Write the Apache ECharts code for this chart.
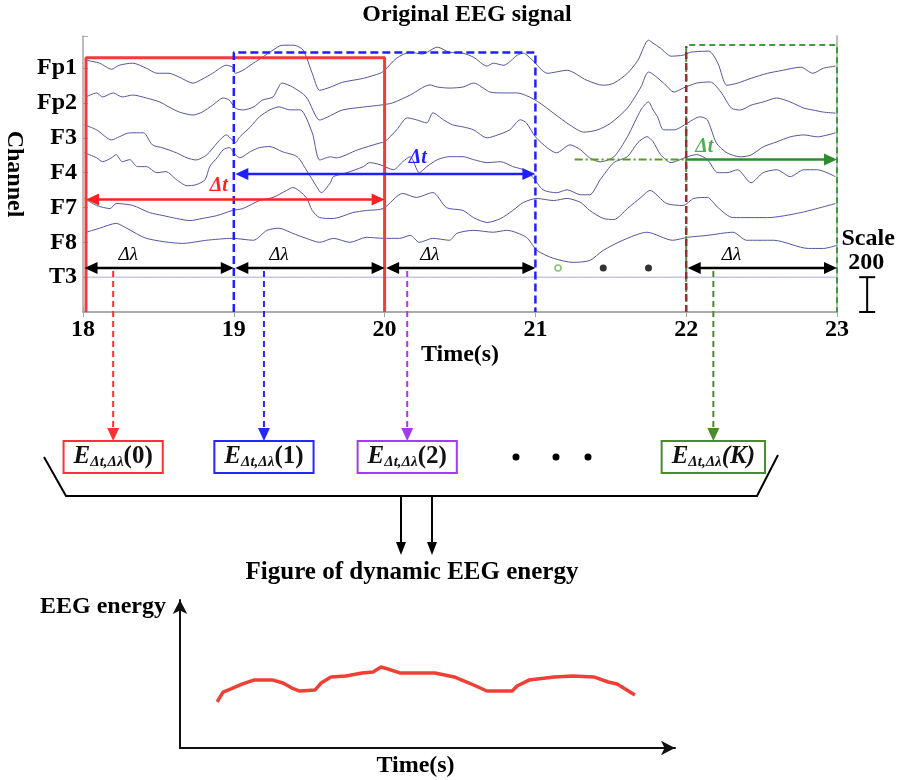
<!DOCTYPE html>
<html>
<head>
<meta charset="utf-8">
<script src="https://cdn.jsdelivr.net/npm/echarts/dist/echarts.min.js"></script>
<style>
html, body { margin: 0; padding: 0; background: #fff; }
#main { width: 901px; height: 780px; }
</style>
</head>
<body>
<div id="main"></div>
<script>
// channels, top to bottom; traces are offsets in uV from each channel's baseline
var channels = ['Fp1', 'Fp2', 'F3', 'F4', 'F7', 'F8', 'T3'];
var channelGap = 200; // same as the scale bar

var fp1 = [[18.02,46],[18.11,29],[18.19,-6],[18.24,17],[18.33,29],[18.42,0],[18.49,-29],[18.57,-29],[18.64,-52],[18.73,-86],[18.79,-63],[18.86,-29],[18.95,17],[18.99,6],[19.01,-29],[19.06,-12],[19.13,29],[19.19,63],[19.26,104],[19.32,132],[19.40,132],[19.46,104],[19.52,-29],[19.57,-127],[19.64,-109],[19.72,-81],[19.86,-58],[19.97,-29],[20.00,-12],[20.08,58],[20.17,92],[20.25,81],[20.35,121],[20.43,92],[20.52,86],[20.59,63],[20.68,12],[20.72,29],[20.79,17],[20.88,75],[20.92,86],[20.98,46],[21.08,-29],[21.21,-12],[21.34,-69],[21.45,-98],[21.52,-86],[21.61,-29],[21.68,46],[21.75,161],[21.78,144],[21.83,115],[21.90,69],[21.98,75],[22.03,92],[22.15,98],[22.21,29],[22.27,-98],[22.34,-86],[22.43,-58],[22.54,-29],[22.64,-12],[22.76,6],[22.84,-29],[22.91,0],[22.99,12]];
var fp2 = [[18.02,35],[18.09,58],[18.13,35],[18.20,58],[18.26,35],[18.33,46],[18.42,29],[18.51,6],[18.57,-23],[18.64,-52],[18.73,-69],[18.79,-52],[18.86,-12],[18.93,29],[18.97,17],[19.01,-29],[19.06,-40],[19.13,-23],[19.19,17],[19.26,35],[19.32,115],[19.39,92],[19.48,35],[19.57,-98],[19.62,-81],[19.72,-40],[19.86,-23],[19.97,-12],[20.05,0],[20.17,46],[20.30,104],[20.35,92],[20.43,86],[20.52,92],[20.59,115],[20.70,63],[20.79,58],[20.88,58],[20.96,35],[21.03,0],[21.12,-58],[21.23,-127],[21.32,-167],[21.41,-155],[21.50,-115],[21.61,-29],[21.70,92],[21.75,178],[21.85,115],[21.92,63],[21.98,86],[22.07,115],[22.16,121],[22.23,63],[22.30,-29],[22.36,-40],[22.43,-12],[22.51,6],[22.60,29],[22.69,6],[22.78,-29],[22.84,-40],[22.91,-52],[22.99,-58]];
var f3 = [[18.01,75],[18.09,46],[18.19,-12],[18.24,6],[18.31,29],[18.40,29],[18.46,-40],[18.53,-58],[18.62,-86],[18.69,-115],[18.75,-127],[18.82,-98],[18.89,-29],[18.95,17],[18.99,-12],[19.01,-29],[19.04,6],[19.11,63],[19.17,121],[19.24,161],[19.30,178],[19.37,161],[19.44,161],[19.52,29],[19.57,-127],[19.64,-109],[19.68,-115],[19.82,-69],[19.97,-29],[20.00,-23],[20.08,46],[20.15,115],[20.21,104],[20.28,86],[20.32,144],[20.39,104],[20.45,75],[20.52,63],[20.59,46],[20.68,0],[20.75,17],[20.83,46],[20.90,104],[20.94,86],[21.00,6],[21.08,-58],[21.14,-86],[21.23,-40],[21.30,-69],[21.36,-115],[21.43,-138],[21.52,-109],[21.61,6],[21.70,161],[21.75,207],[21.78,161],[21.81,121],[21.85,46],[21.92,46],[22.01,86],[22.09,121],[22.14,104],[22.20,-29],[22.27,-86],[22.36,-109],[22.43,-98],[22.51,-52],[22.60,-23],[22.69,6],[22.78,17],[22.87,6],[22.99,29]];
var f4 = [[18.01,115],[18.09,86],[18.13,63],[18.19,86],[18.22,104],[18.26,63],[18.31,75],[18.36,35],[18.42,35],[18.49,0],[18.55,6],[18.62,-40],[18.69,-75],[18.75,-69],[18.81,-40],[18.84,35],[18.89,86],[18.93,132],[18.97,144],[19.01,104],[19.04,86],[19.11,121],[19.17,144],[19.24,150],[19.32,121],[19.42,92],[19.48,17],[19.55,-81],[19.58,-115],[19.64,-58],[19.66,-23],[19.75,0],[19.86,35],[19.90,58],[19.97,46],[20.06,17],[20.12,63],[20.17,92],[20.23,0],[20.28,35],[20.35,75],[20.43,92],[20.52,92],[20.59,75],[20.68,58],[20.77,63],[20.85,35],[20.92,17],[20.98,-23],[21.05,-98],[21.14,-115],[21.21,-98],[21.30,-127],[21.36,-127],[21.43,-40],[21.52,58],[21.61,92],[21.68,173],[21.74,207],[21.78,178],[21.83,104],[21.90,58],[21.96,75],[22.01,92],[22.07,104],[22.14,75],[22.21,0],[22.27,0],[22.34,17],[22.43,-58],[22.51,0],[22.60,17],[22.69,-23],[22.78,17],[22.87,17],[22.99,-23]];
var f7 = [[18.01,52],[18.09,12],[18.18,-6],[18.22,23],[18.33,12],[18.44,-29],[18.53,-46],[18.62,-63],[18.71,-75],[18.79,-63],[18.89,-46],[18.99,-17],[19.06,-6],[19.17,40],[19.26,58],[19.35,98],[19.39,115],[19.48,58],[19.52,-17],[19.57,-58],[19.66,-63],[19.79,-29],[19.88,-17],[19.99,-6],[20.12,81],[20.21,58],[20.32,86],[20.41,0],[20.52,-17],[20.59,-58],[20.68,-86],[20.77,-63],[20.85,-17],[20.92,29],[21.01,52],[21.12,40],[21.21,52],[21.30,29],[21.36,-17],[21.45,-63],[21.52,-69],[21.61,-6],[21.70,58],[21.76,98],[21.87,23],[21.98,12],[22.05,52],[22.14,58],[22.21,0],[22.31,-58],[22.54,-58],[22.76,-29],[22.99,23]];
var f8 = [[18.02,58],[18.11,81],[18.22,109],[18.29,81],[18.42,23],[18.66,-6],[18.82,12],[18.99,23],[19.13,12],[19.22,69],[19.30,81],[19.39,52],[19.48,23],[19.57,0],[19.66,23],[19.77,0],[19.88,29],[19.99,23],[20.10,23],[20.17,40],[20.23,0],[20.32,23],[20.43,12],[20.48,52],[20.59,69],[20.72,58],[20.81,69],[20.94,29],[21.01,-46],[21.12,-92],[21.25,-115],[21.36,-104],[21.45,-46],[21.58,12],[21.74,58],[21.91,12],[22.01,29],[22.14,40],[22.31,58],[22.40,12],[22.58,12],[22.81,-35],[22.91,-35],[23.00,-17]];
var t3 = [[18,0],[23,0]];

// windows and steps on the time axis (s)
var windowSpans = [[18.02, 20], [19, 21], [22, 23]];
var stepSpans = [[18, 19], [19, 20], [20, 21], [22, 23]];
var stepPick = [18.2, 19.2, 20.15, 22.18];
var energyIdx = ['0', '1', '2', 'K'];
var gapDots = [21.15, 21.45, 21.75];

// dynamic energy curve (arbitrary units)
var energyTime = [0.75,0.87,1.03,1.25,1.49,1.88,2.08,2.26,2.42,2.73,2.85,3.05,3.35,3.68,3.90,4.06,4.20,4.44,4.83,5.15,5.54,5.84,6.20,6.71,6.81,7.05,7.56,7.94,8.36,8.65,8.83,9.19];
var energyValue = [31.1,37.8,39.9,43.2,45.9,45.9,43.9,40.5,38.5,39.2,43.9,48.0,48.6,50.7,51.4,54.7,53.4,50.7,50.7,50.7,48.0,43.9,38.5,38.5,41.9,45.9,48.0,48.6,48.0,44.6,43.2,35.8];

var serif = '"Liberation Serif", "Times New Roman", serif';
var frame = '#a6a6a6';
var pickColors = ['#ff3030', '#2626ff', '#a23cf0', '#4b8a2e'];

function arrowRender(color, width, heads) {
    return function (params, api) {
        var a = api.coord([api.value(0), api.value(2)]);
        var b = api.coord([api.value(1), api.value(2)]);
        var L = 13, W = 6;
        var kids = [{
            type: 'line',
            shape: { x1: a[0] + (heads[0] ? L - 2 : 0), y1: a[1], x2: b[0] - (heads[1] ? L - 2 : 0), y2: b[1] },
            style: { stroke: color, lineWidth: width }
        }];
        if (heads[0]) kids.push({ type: 'polygon', shape: { points: [[a[0], a[1]], [a[0] + L, a[1] - W], [a[0] + L, a[1] + W]] }, style: { fill: color } });
        if (heads[1]) kids.push({ type: 'polygon', shape: { points: [[b[0], b[1]], [b[0] - L, b[1] - W], [b[0] - L, b[1] + W]] }, style: { fill: color } });
        return { type: 'group', children: kids };
    };
}

function rectPath(span, top) {
    return [[span[0], 0], [span[0], top], [span[1], top], [span[1], 0]];
}

var series = [];
[fp1, fp2, f3, f4, f7, f8, t3].forEach(function (d, i) {
    var base = (channels.length - i) * channelGap;
    series.push({
        type: 'line', name: channels[i], xAxisIndex: 0, yAxisIndex: 0,
        data: d.map(function (p) { return [p[0], base + p[1]]; }),
        showSymbol: false, symbol: 'none', silent: true, z: 2, smooth: 0.25,
        lineStyle: { color: i == 6 ? '#a9a9d8' : '#55559f', width: 1 }
    });
});

// red solid window
series.push({ type: 'line', xAxisIndex: 0, yAxisIndex: 0, data: rectPath(windowSpans[0], 1460), symbol: 'none', z: 5,
    lineStyle: { color: '#f03c3c', width: 3 } });
// blue dashed window
series.push({ type: 'line', xAxisIndex: 0, yAxisIndex: 0, data: rectPath(windowSpans[1], 1490), symbol: 'none', z: 5,
    lineStyle: { color: '#1f1fff', width: 2.5, type: [8, 4] } });
// green dashed window
series.push({ type: 'line', xAxisIndex: 0, yAxisIndex: 0, data: rectPath(windowSpans[2], 1533), symbol: 'none', z: 5,
    lineStyle: { color: '#3f9a3f', width: 2, type: [6, 4] } });
// dark red marker at window start
series.push({ type: 'line', xAxisIndex: 0, yAxisIndex: 0, data: [[windowSpans[2][0], 0], [windowSpans[2][0], 1524]], symbol: 'none', z: 6,
    lineStyle: { color: '#a5282d', width: 2.5, type: [7, 4] } });
// green dash-dot lead-in
series.push({ type: 'line', xAxisIndex: 0, yAxisIndex: 0, data: [[21.26, 876], [windowSpans[2][0], 876]], symbol: 'none', z: 5,
    lineStyle: { color: '#5a9a2a', width: 2, type: [8, 3, 2, 3] } });

// dt arrows
series.push({ type: 'custom', xAxisIndex: 0, yAxisIndex: 0, renderItem: arrowRender('#ff2020', 2.5, [1, 1]), z: 6,
    data: [[windowSpans[0][0], windowSpans[0][1], 646]], encode: { x: [0, 1], y: 2 } });
series.push({ type: 'custom', xAxisIndex: 0, yAxisIndex: 0, renderItem: arrowRender('#1f1fff', 2.5, [1, 1]), z: 6,
    data: [[windowSpans[1][0] + 0.01, windowSpans[1][1], 792]], encode: { x: [0, 1], y: 2 } });
series.push({ type: 'custom', xAxisIndex: 0, yAxisIndex: 0, renderItem: arrowRender('#2e8b2e', 2.5, [0, 1]), z: 6,
    data: [[windowSpans[2][0], windowSpans[2][1], 876]], encode: { x: [0, 1], y: 2 } });
// d-lambda arrows
series.push({ type: 'custom', xAxisIndex: 0, yAxisIndex: 0, renderItem: arrowRender('#000', 2.5, [1, 1]), z: 6,
    data: stepSpans.map(function (s) { return [s[0] + 0.01, s[1], 253]; }), encode: { x: [0, 1], y: 2 } });
// gap dots
series.push({ type: 'scatter', xAxisIndex: 0, yAxisIndex: 0, data: [[gapDots[0], 253]], symbolSize: 6, z: 6,
    itemStyle: { color: '#fff', borderColor: '#6ab04c', borderWidth: 1.5 } });
series.push({ type: 'scatter', xAxisIndex: 0, yAxisIndex: 0, data: gapDots.slice(1).map(function (t) { return [t, 253]; }),
    symbolSize: 7, z: 6, itemStyle: { color: '#000' } });
// scale bar (200 uV)
series.push({ type: 'custom', xAxisIndex: 0, yAxisIndex: 0, clip: false, z: 6, data: [[23.2, 0, channelGap]],
    encode: { x: 0, y: [1, 2] },
    renderItem: function (params, api) {
        var b = api.coord([api.value(0), api.value(1)]);
        var t = api.coord([api.value(0), api.value(2)]);
        var st = { stroke: '#000', lineWidth: 2 };
        return { type: 'group', children: [
            { type: 'line', shape: { x1: b[0], y1: b[1], x2: t[0], y2: t[1] }, style: st },
            { type: 'line', shape: { x1: b[0] - 8, y1: b[1], x2: b[0] + 8, y2: b[1] }, style: st },
            { type: 'line', shape: { x1: t[0] - 8, y1: t[1], x2: t[0] + 8, y2: t[1] }, style: st }
        ] };
    } });

// energy curve
series.push({ type: 'line', xAxisIndex: 2, yAxisIndex: 2, symbol: 'none', z: 3,
    data: energyTime.map(function (t, i) { return [t, energyValue[i]]; }),
    lineStyle: { color: '#ee4035', width: 3.5 } });

var labelFont = { fontFamily: serif, fontSize: 24, fontWeight: 'bold', color: '#000' };

var option = {
    animation: false,
    backgroundColor: '#fff',
    title: {
        text: 'Original EEG signal', left: 467, top: 3, textAlign: 'center', padding: 0,
        textStyle: labelFont
    },
    grid: [
        { left: 83, top: 36, width: 754, height: 276, outerBoundsMode: 'none' },
        { left: 180, top: 600, width: 495, height: 148, outerBoundsMode: 'none' }
    ],
    xAxis: [
        { type: 'value', gridIndex: 0, min: 18, max: 23, interval: 1, position: 'bottom',
          axisLine: { lineStyle: { color: frame, width: 1.5 } },
          axisTick: { inside: true, length: 5, lineStyle: { color: frame } },
          axisLabel: Object.assign({ margin: 6 }, labelFont),
          splitLine: { show: false },
          name: 'Time(s)', nameLocation: 'middle', nameGap: 30, nameTextStyle: labelFont },
        { type: 'value', gridIndex: 0, min: 18, max: 23, interval: 1, position: 'top',
          axisLine: { lineStyle: { color: frame, width: 1.5 } },
          axisTick: { inside: true, length: 5, lineStyle: { color: frame } },
          axisLabel: { show: false }, splitLine: { show: false } },
        { type: 'value', gridIndex: 1, min: 0, max: 10,
          axisLine: { lineStyle: { color: '#111', width: 2 }, symbol: ['none', 'arrow'], symbolSize: [11, 14] },
          axisTick: { show: false }, axisLabel: { show: false }, splitLine: { show: false },
          name: 'Time(s)', nameLocation: 'middle', nameGap: 6,
          nameTextStyle: Object.assign({ padding: [0, 24, 0, 0] }, labelFont) }
    ],
    yAxis: [
        { type: 'value', gridIndex: 0, min: 0, max: 1585, interval: 200, position: 'left',
          axisLine: { show: true, lineStyle: { color: frame, width: 1.5 } },
          axisTick: { show: true, inside: true, length: 5, lineStyle: { color: frame } },
          axisLabel: Object.assign({ margin: 6, padding: [6, 0, 0, 0], formatter: function (v) {
              return channels[channels.length - v / channelGap] || '';
          } }, labelFont),
          splitLine: { show: false },
          name: 'Channel', nameLocation: 'middle', nameRotate: -90, nameGap: 51, nameTextStyle: labelFont },
        { type: 'value', gridIndex: 0, min: 0, max: 1585, position: 'right',
          axisLine: { show: true, lineStyle: { color: frame, width: 1.5 } },
          axisTick: { show: false }, axisLabel: { show: false }, splitLine: { show: false } },
        { type: 'value', gridIndex: 1, min: 0, max: 100,
          axisLine: { show: true, lineStyle: { color: '#111', width: 2 }, symbol: ['none', 'arrow'], symbolSize: [11, 14] },
          axisTick: { show: false }, axisLabel: { show: false }, splitLine: { show: false } }
    ],
    series: series
};

var chart = echarts.init(document.getElementById('main'));
chart.setOption(option);

function px(t, v) { return chart.convertToPixel({ xAxisIndex: 0, yAxisIndex: 0 }, [t, v]); }

var g = [];
var txt = function (x, y, text, font, extra) {
    g.push({ type: 'text', x: x, y: y, z: 10,
        style: Object.assign({ text: text, align: 'center', verticalAlign: 'middle', fill: '#000', font: font }, extra || {}) });
};

// dt labels
var p = px(18.9, 646); txt(p[0], p[1] - 14, 'Δt', 'italic bold 20px ' + serif, { fill: '#ff2020' });
p = px(20.22, 792); txt(p[0], p[1] - 16, 'Δt', 'italic bold 20px ' + serif, { fill: '#1f1fff' });
p = px(22.12, 876); txt(p[0], p[1] - 13, 'Δt', 'italic bold 20px ' + serif, { fill: '#4caf50' });
// d-lambda labels
stepSpans.forEach(function (s) {
    var q = px(s[0] + 0.3, 253);
    txt(q[0], q[1] - 13, 'Δλ', 'italic 19px ' + serif);
});
// scale text
p = px(23.2, channelGap);
txt(p[0] + 1, p[1] - 38, 'Scale', 'bold 24px ' + serif);
txt(p[0] - 1, p[1] - 14, '200', 'bold 24px ' + serif);

// dashed picks down to energy boxes
var lamY = px(18, 253)[1];
stepPick.forEach(function (t, i) {
    var x = px(t, 0)[0];
    var c = pickColors[i];
    g.push({ type: 'line', z: 10, shape: { x1: x, y1: lamY + 3, x2: x, y2: 430 }, style: { stroke: c, lineWidth: 2, lineDash: [6, 4] } });
    g.push({ type: 'polygon', z: 10, shape: { points: [[x - 6, 428], [x + 6, 428], [x, 441]] }, style: { fill: c } });
    g.push({ type: 'text', x: x, y: 457, z: 10, style: {
        text: '{e|E}{s|Δt,Δλ}{p|(' + energyIdx[i] + ')}',
        align: 'center', verticalAlign: 'middle',
        backgroundColor: '#fff', borderColor: c, borderWidth: 2, padding: [2, 9, 2, 9],
        rich: {
            e: { fontFamily: serif, fontSize: 25, fontWeight: 'bold', fontStyle: 'italic', lineHeight: 26, fill: '#111' },
            s: { fontFamily: serif, fontSize: 15, fontWeight: 'bold', fontStyle: 'italic', lineHeight: 15, verticalAlign: 'bottom', fill: '#111' },
            p: { fontFamily: serif, fontSize: 25, fontWeight: 'bold', fontStyle: energyIdx[i] == 'K' ? 'italic' : 'normal', lineHeight: 26, fill: '#111' }
        } } });
});
// ellipsis between boxes
[516, 556, 588].forEach(function (x) {
    g.push({ type: 'circle', shape: { cx: x, cy: 457, r: 3.5 }, style: { fill: '#000' } });
});
// bracket
g.push({ type: 'polyline', shape: { points: [[44, 457], [66, 496], [757, 496], [778, 455]] }, style: { stroke: '#000', lineWidth: 2, fill: null } });
// two arrows to the energy figure
[401, 432].forEach(function (x) {
    g.push({ type: 'line', shape: { x1: x, y1: 496, x2: x, y2: 545 }, style: { stroke: '#000', lineWidth: 2 } });
    g.push({ type: 'polygon', shape: { points: [[x - 5, 542], [x + 5, 542], [x, 555]] }, style: { fill: '#000' } });
});
txt(412, 573, 'Figure of dynamic EEG energy', 'bold 25px ' + serif);
g.push({ type: 'text', x: 166, y: 607, style: { text: 'EEG energy', align: 'right', verticalAlign: 'middle', fill: '#000', font: 'bold 24px ' + serif } });

chart.setOption({ graphic: g });
</script>
</body>
</html>
